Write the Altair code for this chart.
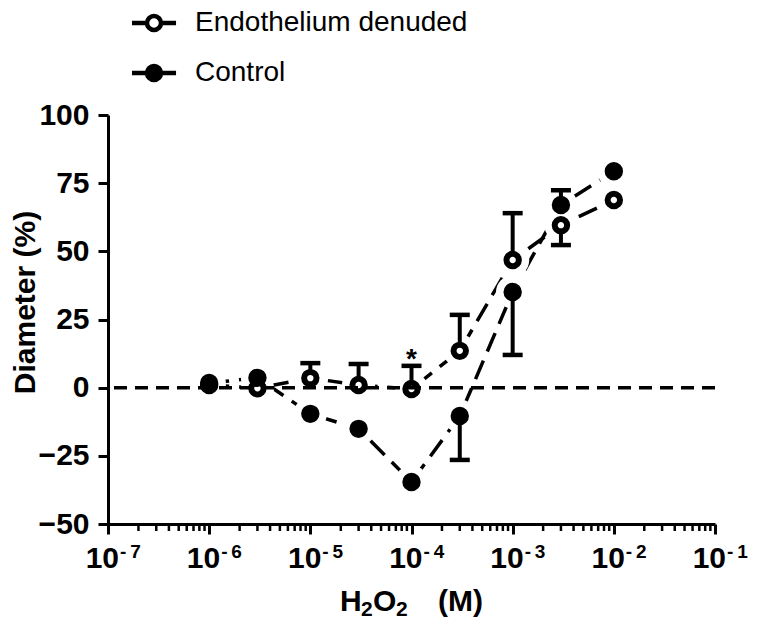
import altair as alt
import pandas as pd

# ---- data ----
series_names = ["Endothelium denuded", "Control"]
conc = [1e-6, 3e-6, 1e-5, 3e-5, 1e-4, 3e-4, 1e-3, 3e-3, 1e-2]
endo_mean = [1.0, -0.2, 3.5, 1.0, -0.5, 13.5, 46.8, 59.6, 68.8]
endo_err_end = [None, None, 9.0, 8.7, 8.0, 26.7, 64.0, 52.3, None]
ctrl_mean = [1.7, 3.6, -9.6, -15.1, -34.6, -10.4, 35.1, 67.0, 79.4]
ctrl_err_end = [None, None, None, None, None, -26.5, 12.0, 72.4, None]
star_conc = [1e-4]
star_y = [7.2]
star_text = ["*"]
x_major = [1e-7, 1e-6, 1e-5, 1e-4, 1e-3, 1e-2, 1e-1]
x_base = ["10"] * 7
x_exp = ["-\u20097", "-\u20096", "-\u20095", "-\u20094", "-\u20093", "-\u20092", "-\u20091"]
y_ticks = [-50, -25, 0, 25, 50, 75, 100]
x_minor = [m * d for d in x_major[:-1] for m in range(2, 10)]
x_title_parts = ["H", "2", "O", "2", "(M)"]
y_title = "Diameter (%)"

rows = []
for name, means, errs in [(series_names[0], endo_mean, endo_err_end),
                          (series_names[1], ctrl_mean, ctrl_err_end)]:
    for c, m, e in zip(conc, means, errs):
        rows.append({"conc": c, "value": m, "series": name, "err_end": e})
df = pd.DataFrame(rows)
err_df = df.dropna(subset=["err_end"])
minor_df = pd.DataFrame({"conc": x_minor})
star_df = pd.DataFrame({"conc": star_conc, "value": star_y, "label": star_text})
zero_df = pd.DataFrame({"value": [0]})
xlab_df = pd.DataFrame({"conc": x_major, "base": x_base, "exp": x_exp})

W, H = 607, 409
FONT = "Liberation Sans"
FS = 30

xscale = alt.Scale(type="log", domain=[1e-7, 1e-1], nice=False)
yscale = alt.Scale(domain=[-50, 100], nice=False, zero=False)

x_axis = alt.Axis(
    values=x_major, labels=False, title=None,
    tickSize=10, tickWidth=3, domainWidth=3, grid=False,
    tickColor="black", domainColor="black",
)
y_axis = alt.Axis(
    values=y_ticks, tickSize=10, tickWidth=3, domainWidth=3, grid=False,
    labelFont=FONT, labelFontSize=FS, labelFontWeight="bold",
    labelPadding=9, labelColor="black", tickColor="black", domainColor="black",
    title=y_title, titleFont=FONT, titleFontSize=FS, titleFontWeight="bold",
    titleBaseline="alphabetic", titleX=-74, titleY=187, titleColor="black",
)

X = alt.X("conc:Q", scale=xscale, axis=x_axis)
Y = alt.Y("value:Q", scale=yscale, axis=y_axis)
Xn = alt.X("conc:Q", scale=xscale)
Yn = alt.Y("value:Q", scale=yscale)

lines = alt.Chart(df).mark_line(strokeWidth=3.5, strokeDash=[20, 10], color="black").encode(
    x=X, y=Y, detail="series:N", order=alt.Order("conc:Q")
)
halos = alt.Chart(df).mark_circle(color="white", opacity=1, size=1100).encode(
    x=Xn, y=Yn
)
err_rules = alt.Chart(err_df).mark_rule(strokeWidth=4, color="black", opacity=1).encode(
    x=Xn, y=Yn, y2="err_end:Q"
)
err_caps = alt.Chart(err_df).mark_tick(orient="horizontal", size=20, thickness=4.5,
                                       color="black", opacity=1).encode(
    x=Xn, y=alt.Y("err_end:Q", scale=yscale)
)
legend_path = "M-3.15,0L-1,0M1,0L3.15,0M-1,0A1,1 0 1,1 1,0A1,1 0 1,1 -1,0Z"
markers = alt.Chart(df).mark_point(size=154, strokeWidth=6, stroke="black", opacity=1, filled=False).encode(
    x=Xn, y=Yn,
    fill=alt.Fill("series:N",
                  scale=alt.Scale(domain=series_names, range=["white", "black"]),
                  legend=alt.Legend(
                      title=None, orient="none", legendX=32, legendY=-106,
                      symbolType=legend_path, symbolSize=196, symbolStrokeWidth=4.5,
                      symbolStrokeColor="black", symbolOpacity=1,
                      labelFont=FONT, labelFontSize=28, labelColor="black",
                      labelOffset=27, rowPadding=18, padding=0, labelLimit=0,
                  )),
)
zero = alt.Chart(zero_df).mark_rule(strokeWidth=3.5, strokeDash=[13, 8], color="black").encode(
    y=alt.Y("value:Q", scale=yscale)
)
minor = alt.Chart(minor_df).mark_rule(strokeWidth=2.5, color="black").encode(
    x=Xn, y=alt.value(H), y2=alt.value(H + 7)
)
star = alt.Chart(star_df).mark_text(font=FONT, fontSize=28, fontWeight="bold", baseline="alphabetic",
                                    color="black").encode(
    x=Xn, y=Yn, text="label:N"
)
xlab_base = alt.Chart(xlab_df).mark_text(font=FONT, fontSize=FS, fontWeight="bold", align="right",
                                         baseline="alphabetic", dx=11, color="black").encode(
    x=Xn, y=alt.value(H + 44), text="base:N"
)
xlab_exp = alt.Chart(xlab_df).mark_text(font=FONT, fontSize=19, fontWeight="bold", align="left",
                                        baseline="alphabetic", dx=12, color="black").encode(
    x=Xn, y=alt.value(H + 34), text="exp:N"
)

# x-axis title H2O2 (M) with real subscripts
title_df = pd.DataFrame({"t": [0]})
def tpart(text, x, y, size):
    return alt.Chart(title_df).mark_text(font=FONT, fontSize=size, fontWeight="bold", align="left",
                                         baseline="alphabetic", color="black", text=text).encode(
        x=alt.value(x), y=alt.value(y))

xt = [
    tpart(x_title_parts[0], 232, H + 87, FS),
    tpart(x_title_parts[1], 253, H + 92, 21),
    tpart(x_title_parts[2], 265, H + 87, FS),
    tpart(x_title_parts[3], 288, H + 92, 21),
    tpart(x_title_parts[4], 330, H + 87, FS),
]

chart = alt.layer(lines, halos, err_rules, err_caps, markers, zero, minor, star,
                  xlab_base, xlab_exp, *xt).properties(
    width=W, height=H,
    autosize=alt.AutoSizeParams(type="none"),
    padding={"left": 100, "top": 107, "right": 34, "bottom": 97},
).configure_view(stroke=None)

chart.save("out.html", embed_options={"renderer": "svg", "actions": False})
